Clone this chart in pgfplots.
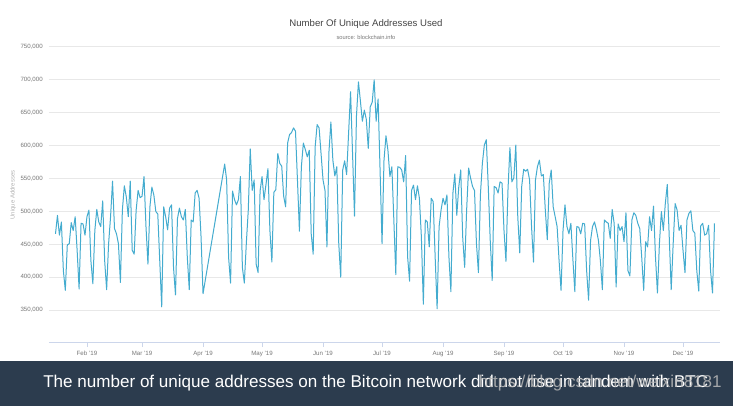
\documentclass[border=0pt]{standalone}
\usepackage{fontspec}
\setmainfont{Liberation Sans}
\usepackage{pgfplots}
\usepackage{pgfplotstable}
\pgfplotsset{compat=1.18}
\definecolor{linec}{HTML}{44ACCF}
\definecolor{gridc}{HTML}{E8E8E8}
\definecolor{axisc}{HTML}{CCD6EB}
\definecolor{banner}{HTML}{2C3C4E}
\definecolor{tickc}{HTML}{777777}
\definecolor{titlec}{HTML}{444444}

\pgfplotstableread{
day val
16 466000
17 494000
18 464000
19 484000
20 410000
21 380000
22 449000
23 451000
24 483000
25 471000
26 492000
27 441000
28 382000
29 482000
30 481000
31 464000
32 492000
33 502000
34 425000
35 390000
36 471000
37 503000
38 484000
39 477000
40 516000
41 425000
42 381000
43 451000
44 492000
45 546000
46 474000
47 466000
48 451000
49 392000
50 502000
51 539000
52 522000
53 492000
54 546000
55 441000
56 435000
57 502000
58 532000
59 521000
60 523000
61 553000
62 477000
63 420000
64 507000
65 537000
66 525000
67 500000
68 496000
69 425000
70 355000
71 507000
72 492000
73 472000
74 505000
75 510000
76 415000
77 373000
78 489000
79 505000
80 492000
81 487000
82 503000
83 431000
84 381000
85 487000
86 484000
87 528000
88 532000
89 520000
90 461000
91 375000
102 572000
103 548000
104 430000
105 391000
106 531000
107 518000
108 510000
109 518000
110 553000
111 415000
112 391000
113 451000
114 502000
115 595000
116 532000
117 548000
118 420000
119 407000
120 531000
121 553000
122 518000
123 541000
124 565000
125 471000
126 423000
127 529000
128 533000
129 588000
130 573000
131 569000
132 523000
133 507000
134 604000
135 617000
136 620000
137 627000
138 622000
139 548000
140 470000
141 568000
142 604000
143 594000
144 583000
145 593000
146 466000
147 435000
148 598000
149 632000
150 627000
151 588000
152 548000
153 532000
154 446000
155 590000
156 636000
157 578000
158 554000
159 568000
160 451000
161 400000
162 563000
163 577000
164 556000
165 619000
166 682000
167 589000
168 493000
169 645000
170 697000
171 668000
172 637000
173 654000
174 640000
175 596000
176 659000
177 666000
178 700000
179 637000
180 671000
181 563000
182 451000
183 578000
184 615000
185 593000
186 553000
187 568000
188 487000
189 404000
190 568000
191 567000
192 563000
193 545000
194 585000
195 431000
196 394000
197 532000
198 540000
199 518000
200 539000
201 520000
202 461000
203 359000
204 487000
205 484000
206 446000
207 520000
208 515000
209 431000
210 352000
211 477000
212 502000
213 520000
214 510000
215 525000
216 431000
217 378000
218 527000
219 557000
220 494000
221 537000
222 563000
223 461000
224 415000
225 502000
226 566000
227 551000
228 538000
229 532000
230 451000
231 407000
232 525000
233 573000
234 601000
235 609000
236 538000
237 456000
238 395000
239 538000
240 536000
241 528000
242 545000
243 543000
244 471000
245 424000
246 531000
247 597000
248 545000
249 551000
250 601000
251 492000
252 437000
253 538000
254 564000
255 561000
256 564000
257 548000
258 477000
259 423000
260 548000
261 568000
262 578000
263 554000
264 556000
265 502000
266 457000
267 543000
268 563000
269 507000
270 492000
271 477000
272 425000
273 380000
274 471000
275 510000
276 477000
277 466000
278 482000
279 428000
280 378000
281 477000
282 476000
283 466000
284 482000
285 481000
286 410000
287 365000
288 456000
289 477000
290 484000
291 472000
292 456000
293 425000
294 381000
295 487000
296 484000
297 482000
298 459000
299 503000
300 482000
301 385000
302 481000
303 471000
304 477000
305 454000
306 498000
307 410000
308 402000
309 487000
310 498000
311 494000
312 482000
313 474000
314 431000
315 380000
316 454000
317 446000
318 492000
319 471000
320 508000
321 431000
322 376000
323 451000
324 500000
325 471000
326 512000
327 541000
328 461000
329 381000
330 451000
331 512000
332 502000
333 471000
334 479000
335 441000
336 407000
337 487000
338 497000
339 501000
340 471000
341 467000
342 410000
343 379000
344 478000
345 482000
346 464000
347 466000
348 479000
349 410000
350 376000
351 482000
}\addrdata

\begin{document}
\begin{tikzpicture}[x=0.75pt,y=0.75pt]
\fill[white] (0,0) rectangle (733,406);
\fill[banner] (0,0) rectangle (733,45);
\begin{axis}[
  at={(36.75pt,47.25pt)}, anchor=south west,
  scale only axis, width=503.25pt, height=222pt,
  xmin=12.7, xmax=353.8, ymin=300000, ymax=750000,
  axis x line*=bottom, axis y line*=left,
  separate axis lines,
  x axis line style={axisc, line width=0.75pt, -},
  y axis line style={draw=none},
  ymajorgrids, grid style={gridc, line width=0.75pt},
  ytick={350000,400000,450000,500000,550000,600000,650000,700000,750000},
  scaled y ticks=false,
  yticklabel style={/pgf/number format/fixed, /pgf/number format/1000 sep={,}, /pgf/number format/assume math mode=true},
  ytick style={draw=none},
  yticklabel style={font=\fontsize{4.6}{5.5}\selectfont, text=tickc, anchor=east, inner sep=0pt, xshift=-1.5pt},
  xtick={32,60,91,121,152,182,213,244,274,305,335},
  xticklabels={{Feb '19},{Mar '19},{Apr '19},{May '19},{Jun '19},{Jul '19},{Aug '19},{Sep '19},{Oct '19},{Nov '19},{Dec '19}},
  xtick style={axisc, line width=0.6pt},
  tick align=outside, major tick length=3pt,
  xticklabel style={font=\fontsize{4.6}{5.5}\selectfont, text=tickc, anchor=north, inner sep=0pt, yshift=-2.5pt, text height=3.4pt, text depth=1pt},
  clip=false,
]
\addplot[linec, line width=0.75pt, line join=round, mark=none] table[x=day,y=val]{\addrdata};
\end{axis}
\node[font=\fontsize{7.2}{8}\selectfont, text=titlec] at (366,382) {Number Of Unique Addresses Used};
\node[font=\fontsize{4.3}{5}\selectfont, text=tickc] at (366,369) {source: blockchain.info};
\node[rotate=90, font=\fontsize{4.5}{5}\selectfont, text=gray!60] at (13,211) {Unique Addresses};
\node[anchor=west, text=white, font=\fontsize{12.8}{14}\selectfont, inner sep=0pt] at (43,22.5) {The number of unique addresses on the Bitcoin network did not rise in tandem with BTC};
\node[anchor=east, text=gray!55, opacity=0.85, font=\fontsize{12.8}{14}\selectfont, inner sep=0pt] at (722,22.5) {https://blog.csdn.net/weixin8181};
\end{tikzpicture}
\end{document}
